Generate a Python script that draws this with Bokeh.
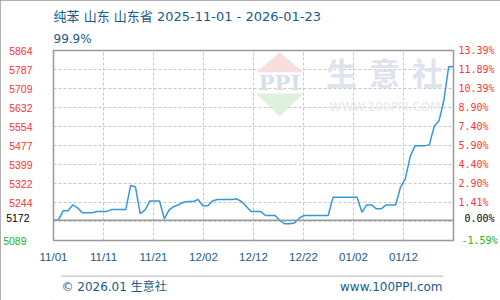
from bokeh.plotting import figure
from bokeh.layouts import column
from bokeh.models import FixedTicker, LinearAxis, Span, Label, PolyAnnotation, Title
from bokeh.core.properties import value
from bokeh.embed import file_html
from bokeh.resources import INLINE

title_text = "纯苯 山东 山东省 2025-11-01 - 2026-01-23"
ratio_text = "99.9%"
footer_left = "© 2026.01 生意社"
footer_right = "www.100PPI.com"

# daily prices 2025-11-01 .. 2026-01-23
prices = [5172, 5172, 5210, 5210, 5234, 5222, 5202, 5202, 5202, 5207,
          5207, 5207, 5215, 5215, 5215, 5215, 5313, 5308, 5198, 5214,
          5250, 5250, 5250, 5177, 5214, 5228, 5235, 5245, 5248, 5248,
          5256, 5231, 5231, 5250, 5256, 5256, 5256, 5256, 5259, 5248,
          5228, 5207, 5207, 5207, 5191, 5191, 5191, 5170, 5157, 5157,
          5160, 5180, 5191, 5191, 5191, 5191, 5191, 5191, 5265, 5265,
          5265, 5265, 5265, 5265, 5204, 5234, 5234, 5218, 5218, 5234,
          5234, 5234, 5306, 5340, 5430, 5475, 5475, 5475, 5480, 5555,
          5577, 5660, 5798, 5798]
days = list(range(len(prices)))
n_days = len(prices) - 1

y_min, y_max, base = 5089, 5864, 5172
left_labels = ["5244", "5322", "5399", "5477", "5554", "5632", "5709", "5787", "5864"]
pct_labels = ["1.41%", "2.90%", "4.40%", "5.90%", "7.40%", "8.90%", "10.39%", "11.89%", "13.39%"]
base_label, base_pct = "5172", "0.00%"
min_label, min_pct = "5089", "-1.59%"
x_labels = ["11/01", "11/11", "11/21", "12/02", "12/12", "12/22", "01/02", "01/12"]
wm_chars = ["生", "意", "社"]
wm_url = "WWW.100PPI.COM"

RED, GREEN, BLUE = "#ff3333", "#22b322", "#1a5b8c"
LATIN = "DejaVu Sans, 'Noto Sans CJK SC'"

FRAME_W, FRAME_H = 400, 190
p = figure(frame_width=FRAME_W, frame_height=FRAME_H, x_range=(0, n_days), y_range=(y_min, y_max),
           min_border_left=50, min_border_right=50, min_border_top=50, min_border_bottom=35,
           output_backend="svg", toolbar_location=None)
p.title.visible = False
p.background_fill_color = "white"
p.border_fill_color = "white"
p.outline_line_color = "#999999"
p.outline_line_width = 1.5

dy = (y_max - y_min) / FRAME_H  # data units per pixel (vertical)

ystep = (y_max - y_min) / 10
ygrid_ticks = [y_min + k * ystep for k in range(11)]
xstep = n_days / 8
xgrid_ticks = [k * xstep for k in range(9)]

# watermark (behind)
wm_fill = [("#f9dede", [202.7, 226.3, 250], [168.3, 188.3, 168.3]),
           ("#ddf1df", [202.7, 226.3, 250], [147, 124, 147])]
for col, xs, ys in wm_fill:
    p.add_layout(PolyAnnotation(xs=xs, ys=ys, xs_units="screen", ys_units="screen",
                                fill_color=col, fill_alpha=1, line_color=None, level="underlay"))
p.add_layout(Label(x=226, y=158.5, x_units="screen", y_units="screen", text="PPI",
                   text_font="DejaVu Serif", text_font_style="bold", text_font_size="21px",
                   text_color="#d8dfec", text_align="center", text_baseline="middle", level="underlay"))
for i, ch in enumerate(wm_chars):
    p.add_layout(Label(x=288 + i * 43, y=169, x_units="screen", y_units="screen", text=ch,
                       text_font="Noto Sans CJK SC", text_font_style="bold", text_font_size="31px",
                       text_color="#dee3ed", text_align="center", text_baseline="middle", level="underlay"))
p.add_layout(Label(x=331.5, y=133.3, x_units="screen", y_units="screen", text=wm_url,
                   text_font="DejaVu Sans", text_font_size="12px",
                   text_color="#e8e8e8", text_align="center", text_baseline="middle", level="underlay"))

p.xgrid.ticker = FixedTicker(ticks=xgrid_ticks)
p.ygrid.ticker = FixedTicker(ticks=ygrid_ticks)
for g in (p.xgrid, p.ygrid):
    g.grid_line_color = "#c8c8c8"
    g.grid_line_dash = "3 2"
    g.grid_line_width = 1


def style_axis(ax, color, font, size, standoff):
    ax.axis_line_color = None
    ax.major_tick_line_color = None
    ax.minor_tick_line_color = None
    ax.major_tick_out = 0
    ax.major_tick_in = 0
    ax.major_label_standoff = standoff
    ax.major_label_text_color = color
    ax.major_label_text_font = font
    ax.major_label_text_font_size = size


# x axis
xa = p.xaxis[0]
xa.ticker = FixedTicker(ticks=xgrid_ticks[:-1])
xa.major_label_overrides = {t: lab for t, lab in zip(xgrid_ticks, x_labels)}
style_axis(xa, BLUE, "Liberation Sans", "11.5px", 10)

# left axis (red labels)
ya = p.yaxis[0]
ya.ticker = FixedTicker(ticks=ygrid_ticks[2:])
ya.major_label_overrides = {t: lab for t, lab in zip(ygrid_ticks[2:], left_labels)}
style_axis(ya, RED, "Liberation Sans", "10.5px", 21)

# right axis (percent, red)
ra = LinearAxis(ticker=FixedTicker(ticks=ygrid_ticks[2:]))
ra.major_label_overrides = {t: lab for t, lab in zip(ygrid_ticks[2:], pct_labels)}
style_axis(ra, RED, "DejaVu Sans Mono", "10px", 5)
p.add_layout(ra, "right")

# base (black) and minimum (green) labels: extra axes pulled back over the first one
base_tick = base + 2 * dy
for tick, lab, col in [(base_tick, base_label, "black"), (y_min, min_label, GREEN)]:
    ax = LinearAxis(ticker=FixedTicker(ticks=[tick]))
    ax.major_label_overrides = {tick: lab}
    style_axis(ax, col, "Liberation Sans", "10.5px", -23)
    p.add_layout(ax, "left")
for tick, lab, col in [(y_min, min_pct, GREEN), (base_tick, base_pct, "black")]:
    ax = LinearAxis(ticker=FixedTicker(ticks=[tick]))
    ax.major_label_overrides = {tick: lab}
    style_axis(ax, col, "DejaVu Sans Mono", "10px", -36)
    p.add_layout(ax, "right")

# base line
p.add_layout(Span(location=base, dimension="width", line_color="#9a9a9a", line_width=1.5))

# price line
p.line(days, prices, line_color="#3399dd", line_width=1.5)

# header (titles above)
t_ratio = Title(text=ratio_text, align="left", text_font=LATIN, text_font_size="12px",
                text_color=BLUE, text_font_style="normal", standoff=9)
t_main = Title(text=title_text, align="left", text_font=LATIN, text_font_size="13px",
               text_color=BLUE, text_font_style="normal", standoff=3)
p.add_layout(t_ratio, "above")
p.add_layout(t_main, "above")

# footer strip
foot = figure(width=500, height=25, x_range=(0, 500), y_range=(25, 0), min_border=0,
              output_backend="svg", toolbar_location=None, x_axis_type=None, y_axis_type=None)
foot.title.visible = False
foot.outline_line_color = None
foot.background_fill_color = "white"
foot.border_fill_color = "white"
foot.xgrid.visible = False
foot.ygrid.visible = False
foot.segment(x0=[10], y0=[0.5], x1=[491], y1=[0.5], line_color="#999999", line_width=1)
foot.text(x=[10], y=[11.5], text=[footer_left], text_align="left", text_baseline="middle",
          text_font=value(LATIN), text_font_size="12px", text_color=BLUE)
foot.text(x=[490], y=[11.5], text=[footer_right], text_align="right", text_baseline="middle",
          text_font=value(LATIN), text_font_size="12px", text_color=BLUE)

page = column(p, foot, spacing=0,
              styles={"outline": "1px solid #999999", "outline-offset": "-1px"})
open("out.html", "w").write(file_html(page, INLINE))
